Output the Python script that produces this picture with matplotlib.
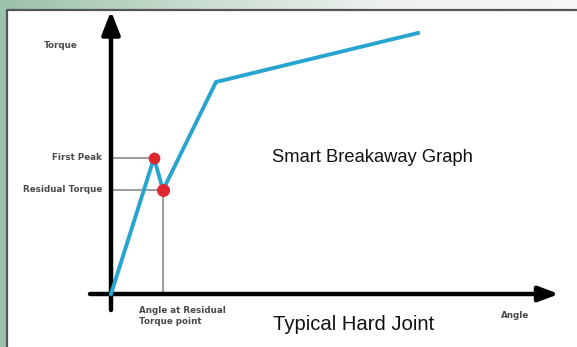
import numpy as np
import matplotlib.pyplot as plt
from matplotlib.colors import LinearSegmentedColormap

# torque-angle curve of a smart breakaway on a hard joint (arbitrary units)
angle = [0, 4.3, 5.2, 10.5, 30.7]
torque = [0, 13.6, 10.4, 21.2, 26.1]
first_peak = (4.3, 13.6)
residual = (5.2, 10.4)

W, H = 577, 347
fig = plt.figure(figsize=(W / 100, H / 100), dpi=100)

# green/grey frame behind the white panel
bg = fig.add_axes([0, 0, 1, 1])
bg.set_axis_off()
xx = np.linspace(0, 1, 300)
grad = np.tile(xx, (10, 1))
cmap = LinearSegmentedColormap.from_list('frame', ['#9cc2ab', '#c8dccf', '#eef1ee', '#f7f7f6'])
bg.imshow(grad, cmap=cmap, aspect='auto', extent=[0, 1, 0, 1])
bg.set_xlim(0, 1)
bg.set_ylim(0, 1)

# white panel with dark edge
px = 7 / W
py = 1 - 10 / H
bg.fill_between([px, 1.01], [-0.01, -0.01], [py, py], color='white', zorder=2)
bg.plot([px, px, 1.01], [-0.01, py, py], color='#555555', lw=1.6, zorder=3)

# plot axes: 1 unit = 10 px, origin at (111, 294) px
ax = fig.add_axes([0, 0, 1, 1])
ax.set_axis_off()
ax.patch.set_alpha(0)
x0, y0 = 111, 294
ax.set_xlim(-x0 / 10, (W - x0) / 10)
ax.set_ylim(-(H - y0) / 10, y0 / 10)

# axis arrows
ax.annotate('', xy=(0, 28.3), xytext=(0, -1.6),
            arrowprops=dict(arrowstyle='-|>,head_length=1.4,head_width=0.55', color='black', lw=3.2,
                            shrinkA=0, shrinkB=0))
ax.annotate('', xy=(44.8, 0), xytext=(-2.1, 0),
            arrowprops=dict(arrowstyle='-|>,head_length=1.2,head_width=0.45', color='black', lw=3.2,
                            shrinkA=0, shrinkB=0))

# guide lines to the two points
ax.plot([0.1, first_peak[0]], [first_peak[1]] * 2, color='#8a8a8a', lw=1.2)
ax.plot([0.1, residual[0]], [residual[1]] * 2, color='#8a8a8a', lw=1.2)
ax.plot([residual[0]] * 2, [residual[1], 0], color='#8a8a8a', lw=1.2)

ax.plot(angle, torque, color='#27a5d0', lw=2.8, solid_joinstyle='miter', zorder=4)
ax.scatter(*first_peak, s=55, color='#e0262e', zorder=5)
ax.scatter(*residual, s=70, color='#e0262e', zorder=5)

small = dict(fontsize=6.3, fontweight='bold', color='#4a4a4a', family='DejaVu Sans')
ax.text(-5.0, 24.8, 'Torque', ha='center', va='center', **small)
ax.text(-0.9, first_peak[1], 'First Peak', ha='right', va='center', **small)
ax.text(-0.9, residual[1], 'Residual Torque', ha='right', va='center', **small)
ax.text(2.8, -1.2, 'Angle at Residual\nTorque point', ha='left', va='top', linespacing=1.3, **small)
ax.text(40.4, -2.1, 'Angle', ha='center', va='center', **small)

ax.text(16.1, 13.7, 'Smart Breakaway Graph', ha='left', va='center',
        fontsize=13.2, color='#111111', family='Liberation Sans')
ax.text(16.2, -3.05, 'Typical Hard Joint', ha='left', va='center',
        fontsize=14.6, color='#111111', family='Liberation Sans')

fig.savefig('out.png', dpi=100)
